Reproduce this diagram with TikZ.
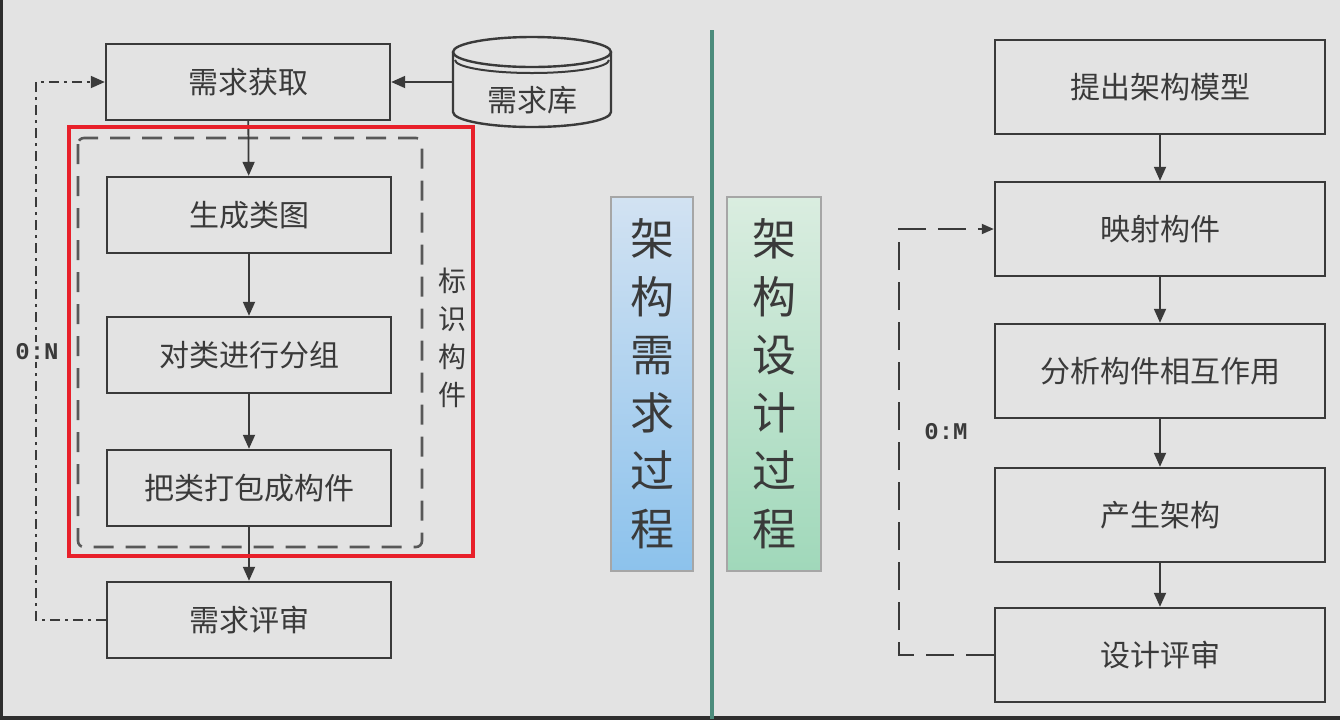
\documentclass[tikz,border=0pt]{standalone}
\usepackage{fontspec}
\newfontfamily\cjk{Noto Sans CJK SC}
\newfontfamily\mono{Liberation Mono}
\usetikzlibrary{arrows.meta}
\definecolor{bg}{HTML}{E3E3E3}
\definecolor{ink}{HTML}{3A3A3A}
\definecolor{edge}{HTML}{2E2E2E}
\definecolor{hiRed}{HTML}{E8202A}
\definecolor{sepTeal}{HTML}{4C8C7C}
\definecolor{blueTop}{HTML}{D2E2F2}
\definecolor{blueBot}{HTML}{8CC2EC}
\definecolor{greenTop}{HTML}{DAEDE0}
\definecolor{greenBot}{HTML}{A0D8BA}
\tikzset{
  lbox/.style={draw=ink, line width=1.2pt, fill=bg, minimum width=142pt, minimum height=38pt,
    text=ink, font=\cjk\fontsize{15}{18}\selectfont},
  rbox/.style={lbox, minimum width=165pt, minimum height=47pt},
  stage/.style={draw=gray!70, line width=0.6pt, minimum height=187pt, align=center,
    text=ink, font=\cjk\fontsize{22}{29}\selectfont},
  flow/.style={draw=ink, line width=0.9pt, -{Triangle[length=7pt,width=6pt]}},
  loopDot/.style={draw=ink, line width=0.9pt, dash pattern=on 5pt off 2.5pt on 1.5pt off 2.5pt,
    -{Triangle[length=7pt,width=6pt]}},
  loopDash/.style={draw=ink, line width=0.9pt, dash pattern=on 14pt off 6pt,
    -{Triangle[length=6pt,width=5pt]}},
  group/.style={draw=ink!85, line width=1.3pt, dash pattern=on 10pt off 6pt, rounded corners=3pt},
  tag/.style={text=ink, font=\mono\bfseries\fontsize{12}{14}\selectfont}
}
\begin{document}
\begin{tikzpicture}[x=0.5pt, y=-0.5pt]
\useasboundingbox (0,0) rectangle (1340,719);
\fill[bg] (0,0) rectangle (1340,719);
\draw[edge, line width=2pt] (1,0) -- (1,718) -- (1340,718);

% left column
\node[lbox] (reqGet) at (248,82) {需求获取};
\node[lbox] (genClass) at (249,215) {生成类图};
\node[lbox] (groupClass) at (249,355) {对类进行分组};
\node[lbox] (packClass) at (249,488) {把类打包成构件};
\node[lbox] (reqReview) at (249,620) {需求评审};

% requirement store
\draw[ink, line width=1.2pt, fill=bg] (453,52) -- (453,112) arc (180:0:79 and 15) -- (611,52);
\draw[ink, line width=1.2pt, fill=bg] (532,52) ellipse (79 and 15);
\draw[ink, line width=1pt] (455,60) arc (180:0:77 and 13);
\coordinate (libW) at (453,82);
\node[text=ink, font=\cjk\fontsize{15}{18}\selectfont] (reqLib) at (532,100) {需求库};

\draw[group] (78,138) rectangle (422,547);
\node[align=center, text=ink, font=\cjk\fontsize{14}{19}\selectfont] (idComp) at (452,338) {标\\识\\构\\件};

\draw[flow] (libW) -- (reqGet);
\draw[flow] (reqGet) -- (genClass);
\draw[flow] (genClass) -- (groupClass);
\draw[flow] (groupClass) -- (packClass);
\draw[flow] (packClass) -- (reqReview);
\draw[loopDot] (reqReview.west) -- ++(-70,0) |- (reqGet.west);
\node[tag, fill=bg, inner sep=1pt] (tagN) at (37,352) {0:N};

\draw[hiRed, line width=1.6pt] (69,127) rectangle (473,556);

% middle
\node[stage, minimum width=41pt, top color=blueTop, bottom color=blueBot] (reqStage) at (652,384) {架\\构\\需\\求\\过\\程};
\draw[sepTeal, line width=1.6pt] (712,30) -- (712,719);
\node[stage, minimum width=47pt, top color=greenTop, bottom color=greenBot] (designStage) at (774,384) {架\\构\\设\\计\\过\\程};

% right column
\node[rbox] (model) at (1160,87) {提出架构模型};
\node[rbox] (mapComp) at (1160,229) {映射构件};
\node[rbox] (interact) at (1160,371) {分析构件相互作用};
\node[rbox] (makeArch) at (1160,515) {产生架构};
\node[rbox] (designReview) at (1160,655) {设计评审};

\draw[flow] (model) -- (mapComp);
\draw[flow] (mapComp) -- (interact);
\draw[flow] (interact) -- (makeArch);
\draw[flow] (makeArch) -- (designReview);
\draw[loopDash] (designReview.west) -- ++(-95,0) |- (mapComp.west);
\node[tag] (tagM) at (946,432) {0:M};
\end{tikzpicture}
\end{document}
